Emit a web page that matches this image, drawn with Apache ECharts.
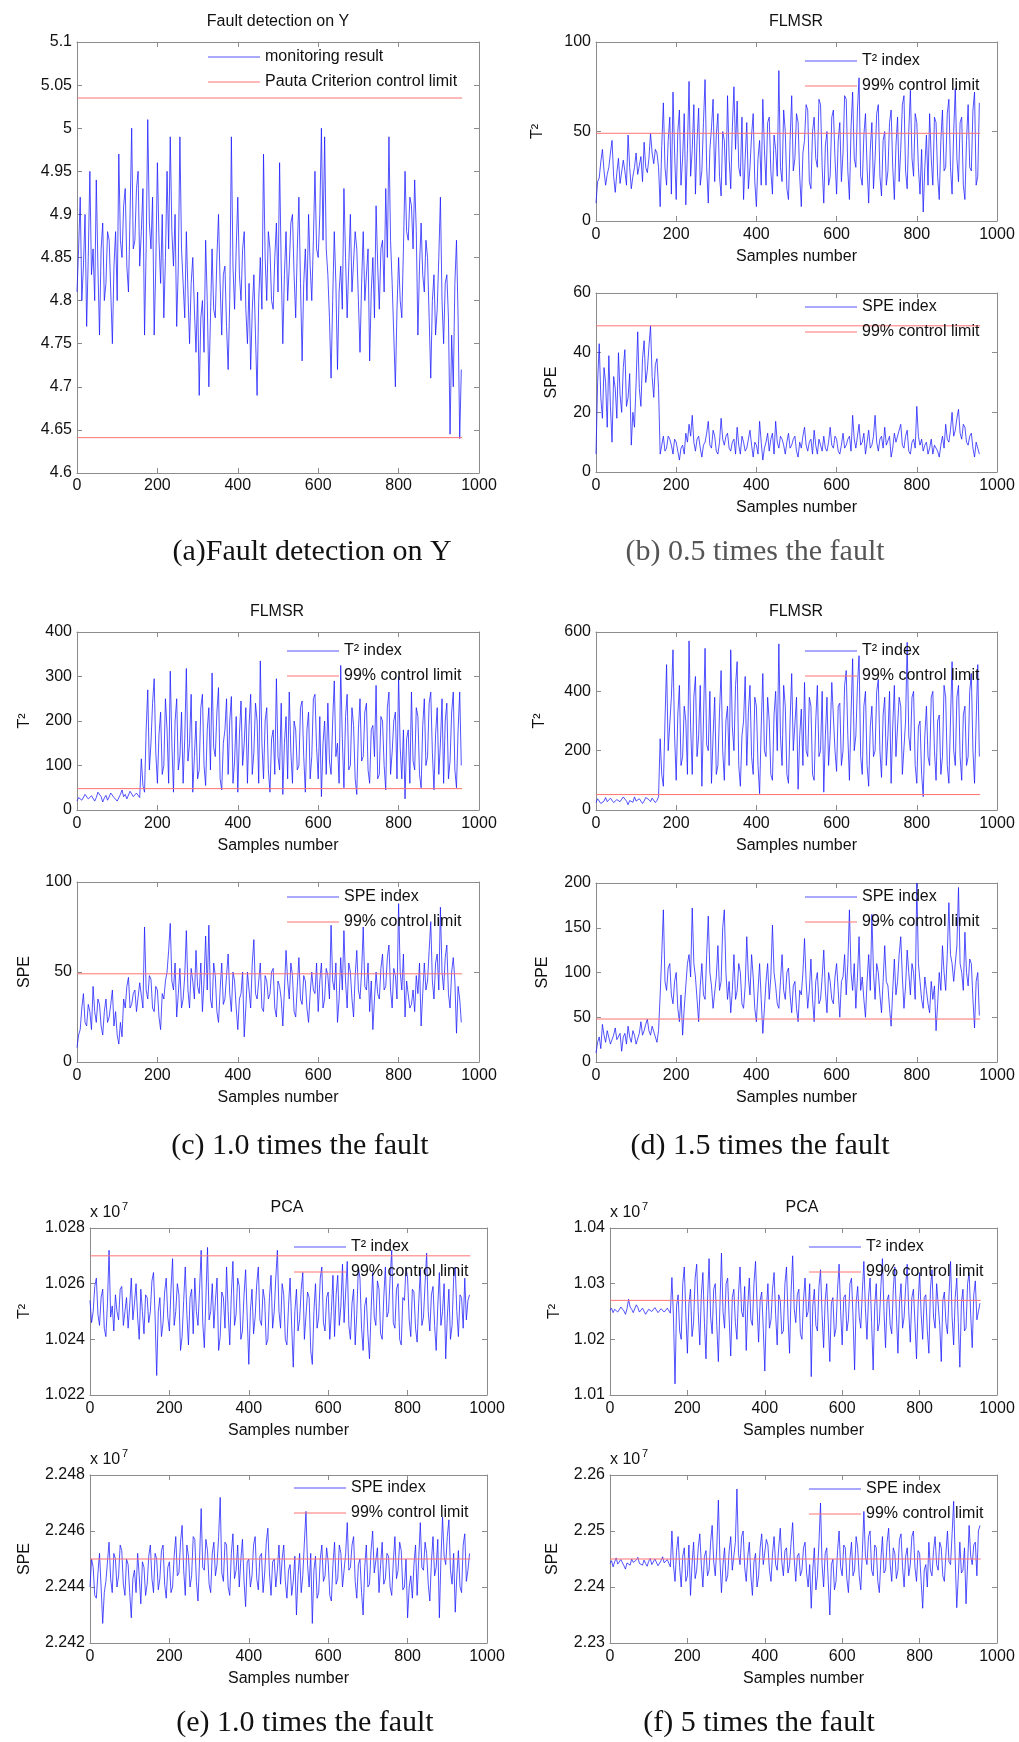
<!DOCTYPE html>
<html>
<head>
<meta charset="utf-8">
<title>Fault detection</title>
<script src="https://cdn.jsdelivr.net/npm/echarts@6/dist/echarts.min.js"></script>
<style>
  html, body { margin: 0; padding: 0; background: #fff; }
  #chart { width: 1019px; height: 1742px; }
</style>
</head>
<body>
<div id="chart"></div>
<script>
// one reading every 4 samples (x = i * sampleStep)
var sampleStep = 4;
var limitSpan = [0, 958];
var xTicks = [0, 1000, 200];

// (a) monitoring result on Y
var yResult = [
  4.81,4.86,4.92,4.80,4.84,4.90,4.77,4.85,4.95,4.83,4.86,4.80,4.94,4.84,4.76,4.86,4.89,4.80,4.82,4.88,
  4.87,4.81,4.75,4.84,4.88,4.80,4.97,4.87,4.85,4.91,4.93,4.84,4.81,4.90,5.00,4.86,4.87,4.93,4.95,4.84,
  4.88,4.93,4.76,4.86,5.01,4.89,4.86,4.92,4.76,4.84,4.96,4.87,4.82,4.90,4.78,4.85,4.95,4.86,4.99,4.88,
  4.84,4.90,4.77,4.84,4.99,4.86,4.82,4.78,4.88,4.81,4.75,4.82,4.85,4.79,4.74,4.81,4.69,4.78,4.80,4.74,
  4.87,4.80,4.70,4.78,4.86,4.79,4.78,4.85,4.90,4.82,4.76,4.83,4.84,4.77,4.72,4.80,4.99,4.84,4.79,4.86,
  4.92,4.83,4.80,4.86,4.88,4.79,4.75,4.82,4.72,4.79,4.83,4.76,4.69,4.80,4.85,4.79,4.97,4.85,4.80,4.88,
  4.86,4.80,4.79,4.85,4.89,4.81,4.96,4.84,4.75,4.83,4.88,4.80,4.84,4.89,4.90,4.83,4.78,4.86,4.92,4.82,
  4.73,4.82,4.86,4.80,4.90,4.84,4.80,4.87,4.95,4.86,4.85,4.90,5.00,4.87,4.99,4.86,4.83,4.78,4.71,4.80,
  4.88,4.82,4.72,4.81,4.84,4.79,4.93,4.85,4.78,4.84,4.90,4.81,4.81,4.88,4.86,4.80,4.74,4.82,4.88,4.80,
  4.80,4.86,4.73,4.81,4.85,4.78,4.91,4.84,4.79,4.86,4.87,4.81,4.93,4.85,4.99,4.87,4.82,4.76,4.70,4.79,
  4.85,4.80,4.78,4.86,4.95,4.88,4.87,4.92,4.91,4.86,4.94,4.88,4.76,4.84,4.89,4.83,4.81,4.87,4.85,4.78,
  4.71,4.80,4.83,4.76,4.79,4.85,4.92,4.80,4.75,4.82,4.83,4.78,4.645,4.76,4.70,4.82,4.87,4.78,4.64,4.72];
var yResultLimits = [5.035, 4.641];

// (b) FLMSR, 0.5 times the fault
var t2Half = [
  10,22,24,33,40,28,20,26,30,38,45,25,16,27,35,21,22,34,28,20,
  48,30,18,25,30,38,26,31,36,22,44,30,27,35,49,38,32,40,38,30,
  8,42,66,30,20,45,58,15,72,38,12,50,62,20,35,60,9,40,78,25,
  40,65,15,45,63,20,28,55,79,30,10,40,52,68,22,48,60,25,14,50,
  45,20,70,35,18,52,75,40,67,30,25,58,12,35,55,18,30,48,60,22,
  8,35,45,20,68,40,20,55,58,28,15,48,40,25,84,30,22,62,50,18,
  12,45,70,28,35,60,55,25,8,38,45,65,62,22,18,50,58,35,30,68,
  65,30,10,42,50,20,25,58,62,35,15,45,55,22,38,70,68,28,12,52,
  72,35,30,62,80,25,20,48,60,30,10,40,55,18,35,60,65,25,14,45,
  50,20,28,55,62,30,12,42,58,22,40,65,70,28,18,50,73,35,25,60,
  55,30,15,40,5,30,48,20,60,35,20,58,55,25,12,45,62,28,30,60,
  68,30,15,50,74,35,22,55,58,20,12,45,65,30,28,62,72,20,25,66];
var speHalf = [
  6,30,43,25,18,35,30,15,39,22,10,32,28,18,40,26,20,35,41,22,
  25,33,9,20,15,30,47,28,22,38,44,30,34,42,49,32,25,36,38,28,
  6,9,12,7,8,12,11,9,6,11,10,7,4,8,9,6,13,10,16,12,
  19,10,7,11,12,8,5,9,10,13,17,9,8,14,12,7,6,10,18,11,
  9,12,13,8,7,10,11,6,15,9,6,12,10,7,8,11,14,9,5,10,
  9,6,17,10,4,8,10,13,7,11,13,6,17,10,8,12,11,9,6,10,
  13,8,9,11,12,7,5,10,8,12,15,9,7,10,11,6,14,9,6,11,
  9,7,12,8,7,10,15,9,8,12,11,7,6,9,13,8,9,11,12,7,
  19,11,8,12,16,9,10,13,6,10,14,8,9,12,19,10,7,11,12,8,
  15,9,9,12,5,8,13,10,10,14,16,9,8,12,14,7,6,10,11,8,
  22,12,9,11,7,9,10,6,8,11,6,9,9,7,5,9,12,8,16,11,
  10,14,20,12,14,18,21,13,11,16,15,10,9,12,13,8,5,10,8,6];
var limitsHalf = [49, 49];

// (c) FLMSR, 1.0 times the fault
var t2One = [
  20,28,30,22,25,35,38,25,22,32,35,20,28,40,42,30,18,27,33,22,
  25,38,40,28,30,20,22,35,45,30,35,25,28,42,40,30,30,38,35,28,
  115,55,40,180,270,90,150,240,295,130,60,170,220,80,100,250,180,60,312,150,
  40,200,250,90,120,220,60,160,318,110,150,260,40,120,200,70,90,230,260,100,
  55,180,230,90,308,140,120,220,275,70,45,150,180,250,80,200,255,60,110,210,
  40,170,245,100,150,230,60,190,260,80,130,240,200,60,335,150,70,200,230,90,
  40,160,180,80,295,120,90,240,35,150,210,70,265,130,60,200,180,90,100,230,
  245,120,40,180,220,70,120,250,260,140,70,210,30,150,200,80,240,110,80,200,
  290,120,150,60,325,160,50,210,260,90,100,230,190,70,35,180,250,110,120,220,
  240,90,60,180,190,120,280,70,80,210,200,100,45,230,265,80,130,200,220,70,
  300,140,70,180,25,160,180,60,265,110,90,230,210,80,50,190,250,100,120,240,
  265,130,45,170,230,80,150,250,60,200,240,70,110,220,265,90,50,180,265,100];
var speOne = [
  8,15,18,30,38,22,20,32,28,18,42,28,22,35,32,20,15,28,35,22,
  25,32,40,20,28,15,10,22,14,35,30,42,47,30,32,38,40,28,36,44,
  45,30,75,40,35,48,46,30,28,42,40,25,18,38,35,45,50,62,77,45,
  40,55,25,38,52,30,35,48,73,40,30,52,45,35,62,42,38,55,28,45,
  70,40,76,35,30,55,48,28,22,40,55,32,35,48,60,38,28,50,45,30,
  18,35,38,50,14,30,50,40,30,55,68,38,35,45,55,30,28,48,45,35,
  38,50,52,30,25,45,42,35,20,40,62,45,35,55,48,28,25,42,58,35,
  32,48,45,30,22,38,50,40,38,55,28,45,55,30,35,52,48,35,76,45,
  40,55,22,35,58,40,73,45,30,55,50,35,25,48,62,40,35,50,75,42,
  40,55,28,45,18,35,50,38,35,52,60,40,42,58,65,40,30,52,48,35,
  88,50,40,60,25,45,45,30,32,40,28,48,38,55,20,38,55,40,45,62,
  78,45,35,55,60,40,86,50,40,58,65,38,30,50,58,45,16,42,35,22];
var limitsOne = [48, 49];

// (d) FLMSR, 1.5 times the fault
var t2OneHalf = [
  25,38,35,22,20,30,42,28,30,40,45,25,22,35,38,28,28,44,40,30,
  18,32,35,26,44,30,25,38,40,22,30,42,46,35,28,40,38,25,32,45,
  240,120,80,300,490,200,200,380,540,250,100,320,420,150,180,350,300,120,570,280,
  120,380,450,180,250,420,80,300,545,220,200,400,90,250,380,120,150,330,470,200,
  100,300,350,150,540,280,200,420,500,150,80,250,300,450,150,330,420,180,120,380,
  350,150,55,280,460,200,180,380,300,120,100,320,400,200,560,250,150,420,350,120,
  90,300,460,200,200,380,70,250,340,150,430,200,180,380,350,120,100,300,420,180,
  200,400,60,250,380,150,250,430,430,200,130,350,360,150,200,420,470,250,100,320,
  510,200,250,420,520,180,120,350,400,150,80,280,350,180,200,400,440,200,110,320,
  380,150,250,400,90,280,420,180,180,380,350,120,120,300,565,250,200,380,400,150,
  90,280,300,120,45,250,350,180,150,380,400,200,100,300,320,120,180,420,380,150,
  90,300,500,200,150,380,420,180,100,320,350,150,180,400,460,200,90,300,490,180];
var speOneHalf = [
  10,22,28,15,42,30,22,35,35,20,18,30,38,25,25,32,12,28,32,20,
  40,28,22,35,30,20,18,32,45,30,35,42,48,35,30,40,40,28,22,35,
  75,120,170,90,80,105,110,75,65,90,100,60,45,75,30,60,85,110,120,95,
  172,110,95,70,45,85,110,75,70,120,163,100,85,60,60,95,130,80,90,150,
  170,100,70,90,55,80,120,70,80,110,100,65,60,85,140,95,75,120,95,60,
  45,80,110,70,32,60,90,110,70,95,153,100,85,65,60,90,120,80,70,100,
  105,75,55,85,90,60,45,80,75,100,138,90,60,80,115,70,45,90,100,65,
  70,95,125,80,55,100,90,70,65,95,110,80,50,90,95,120,75,110,170,100,
  80,110,60,95,140,80,95,70,50,90,120,80,165,100,70,110,100,75,55,90,
  130,90,85,60,40,80,115,75,90,120,140,95,60,85,125,100,75,110,100,70,
  200,110,90,70,60,95,80,65,55,90,70,85,35,65,100,80,130,100,80,120,
  178,120,110,90,90,130,195,110,100,80,145,100,85,115,110,70,38,90,100,52];
var limitsOneHalf = [52, 48];

// (e) PCA, 1.0 times the fault (x 10^7)
var pcaT2One = [
  1.0254,1.0246,1.0250,1.0259,1.0262,1.0249,1.0245,1.0255,1.0258,1.0244,1.0241,1.0253,1.0272,1.0248,1.0252,1.0243,1.0256,1.0250,1.0247,1.0258,
  1.0259,1.0245,1.0250,1.0255,1.0244,1.0252,1.0262,1.0247,1.0253,1.0260,1.0248,1.0240,1.0258,1.0250,1.0242,1.0256,1.0255,1.0246,1.0250,1.0261,
  1.0264,1.0248,1.0227,1.0250,1.0255,1.0241,1.0246,1.0257,1.0262,1.0248,1.0243,1.0258,1.0269,1.0245,1.0250,1.0260,1.0256,1.0236,1.0241,1.0254,
  1.0266,1.0249,1.0238,1.0255,1.0258,1.0242,1.0262,1.0250,1.0245,1.0258,1.0272,1.0246,1.0237,1.0255,1.0273,1.0247,1.0250,1.0260,1.0244,1.0254,
  1.0262,1.0236,1.0241,1.0257,1.0255,1.0244,1.0266,1.0250,1.0238,1.0256,1.0268,1.0245,1.0249,1.0262,1.0259,1.0240,1.0243,1.0256,1.0265,1.0248,
  1.0231,1.0250,1.0258,1.0242,1.0248,1.0260,1.0266,1.0247,1.0245,1.0258,1.0254,1.0238,1.0240,1.0255,1.0263,1.0244,1.0250,1.0262,1.0272,1.0250,
  1.0244,1.0260,1.0256,1.0240,1.0238,1.0252,1.0262,1.0245,1.0230,1.0250,1.0258,1.0243,1.0247,1.0258,1.0264,1.0240,1.0240,1.0257,1.0255,1.0236,
  1.0231,1.0250,1.0260,1.0244,1.0248,1.0262,1.0266,1.0246,1.0243,1.0255,1.0257,1.0240,1.0250,1.0263,1.0241,1.0256,1.0263,1.0245,1.0252,1.0267,
  1.0246,1.0257,1.0268,1.0245,1.0240,1.0253,1.0258,1.0238,1.0249,1.0266,1.0262,1.0244,1.0236,1.0252,1.0255,1.0242,1.0233,1.0250,1.0264,1.0248,
  1.0245,1.0261,1.0258,1.0242,1.0240,1.0255,1.0266,1.0248,1.0250,1.0262,1.0272,1.0246,1.0244,1.0258,1.0260,1.0240,1.0238,1.0255,1.0254,1.0266,
  1.0262,1.0247,1.0241,1.0258,1.0257,1.0244,1.0239,1.0253,1.0265,1.0245,1.0248,1.0260,1.0271,1.0250,1.0243,1.0256,1.0259,1.0245,1.0236,1.0252,
  1.0264,1.0245,1.0250,1.0260,1.0233,1.0248,1.0258,1.0240,1.0245,1.0262,1.0266,1.0250,1.0241,1.0256,1.0255,1.0244,1.0262,1.0247,1.0254,1.0256];
var pcaSpeOne = [
  2.2440,2.2450,2.2447,2.2437,2.2436,2.2445,2.2452,2.2440,2.2427,2.2438,2.2442,2.2449,2.2456,2.2443,2.2438,2.2452,2.2450,2.2440,2.2444,2.2455,
  2.2453,2.2441,2.2437,2.2450,2.2448,2.2438,2.2429,2.2443,2.2446,2.2438,2.2452,2.2444,2.2434,2.2449,2.2447,2.2437,2.2441,2.2451,2.2455,2.2443,
  2.2438,2.2452,2.2450,2.2439,2.2443,2.2453,2.2455,2.2441,2.2436,2.2447,2.2449,2.2438,2.2440,2.2451,2.2458,2.2444,2.2445,2.2456,2.2462,2.2446,
  2.2437,2.2455,2.2451,2.2440,2.2444,2.2458,2.2457,2.2442,2.2435,2.2450,2.2468,2.2447,2.2446,2.2457,2.2453,2.2441,2.2438,2.2452,2.2456,2.2444,
  2.2448,2.2458,2.2472,2.2445,2.2442,2.2456,2.2455,2.2440,2.2437,2.2452,2.2459,2.2443,2.2446,2.2455,2.2440,2.2450,2.2457,2.2442,2.2433,2.2449,
  2.2450,2.2440,2.2444,2.2455,2.2458,2.2443,2.2439,2.2451,2.2452,2.2438,2.2445,2.2456,2.2461,2.2445,2.2437,2.2449,2.2450,2.2440,2.2446,2.2455,
  2.2441,2.2450,2.2455,2.2442,2.2436,2.2446,2.2448,2.2437,2.2442,2.2451,2.2430,2.2444,2.2452,2.2438,2.2444,2.2456,2.2467,2.2448,2.2440,2.2452,
  2.2427,2.2446,2.2451,2.2436,2.2438,2.2450,2.2455,2.2442,2.2444,2.2454,2.2449,2.2437,2.2435,2.2448,2.2456,2.2441,2.2443,2.2455,2.2452,2.2440,
  2.2440,2.2452,2.2463,2.2446,2.2447,2.2455,2.2458,2.2442,2.2436,2.2448,2.2450,2.2438,2.2430,2.2447,2.2455,2.2440,2.2441,2.2453,2.2460,2.2445,
  2.2445,2.2454,2.2438,2.2448,2.2456,2.2441,2.2443,2.2452,2.2451,2.2440,2.2437,2.2449,2.2458,2.2443,2.2446,2.2456,2.2453,2.2439,2.2440,2.2450,
  2.2429,2.2440,2.2444,2.2436,2.2448,2.2455,2.2437,2.2450,2.2463,2.2447,2.2446,2.2456,2.2452,2.2441,2.2435,2.2449,2.2458,2.2444,2.2447,2.2457,
  2.2429,2.2450,2.2465,2.2451,2.2448,2.2458,2.2464,2.2446,2.2441,2.2452,2.2431,2.2444,2.2453,2.2440,2.2438,2.2455,2.2459,2.2442,2.2446,2.2452];
var pcaLimitsOne = [1.0270, 2.2450];

// (f) PCA, 5 times the fault (x 10^7)
var pcaT2Five = [
  1.0252,1.0256,1.0248,1.0254,1.0256,1.0249,1.0250,1.0258,1.0258,1.0251,1.0245,1.0255,1.0272,1.0258,1.0254,1.0248,1.0250,1.0262,1.0257,1.0249,
  1.0249,1.0256,1.0253,1.0245,1.0247,1.0254,1.0255,1.0250,1.0251,1.0257,1.0258,1.0248,1.0246,1.0255,1.0254,1.0249,1.0250,1.0256,1.0256,1.0247,
  1.0311,1.0240,1.0120,1.0260,1.0280,1.0215,1.0200,1.0300,1.0330,1.0245,1.0175,1.0265,1.0290,1.0205,1.0230,1.0310,1.0335,1.0250,1.0190,1.0280,
  1.0320,1.0230,1.0165,1.0270,1.0345,1.0240,1.0210,1.0290,1.0300,1.0225,1.0160,1.0260,1.0355,1.0250,1.0220,1.0300,1.0310,1.0235,1.0170,1.0275,
  1.0290,1.0230,1.0200,1.0280,1.0330,1.0250,1.0240,1.0295,1.0180,1.0260,1.0310,1.0235,1.0225,1.0300,1.0340,1.0260,1.0195,1.0270,1.0285,1.0220,
  1.0143,1.0250,1.0300,1.0220,1.0235,1.0290,1.0320,1.0245,1.0190,1.0280,1.0270,1.0210,1.0215,1.0300,1.0330,1.0240,1.0175,1.0285,1.0350,1.0255,
  1.0230,1.0280,1.0290,1.0210,1.0200,1.0270,1.0310,1.0240,1.0250,1.0300,1.0133,1.0260,1.0290,1.0225,1.0215,1.0295,1.0325,1.0245,1.0185,1.0270,
  1.0300,1.0230,1.0160,1.0265,1.0275,1.0205,1.0220,1.0290,1.0335,1.0250,1.0190,1.0275,1.0280,1.0215,1.0235,1.0300,1.0310,1.0240,1.0145,1.0265,
  1.0295,1.0240,1.0220,1.0285,1.0340,1.0255,1.0200,1.0275,1.0310,1.0230,1.0145,1.0260,1.0300,1.0215,1.0230,1.0295,1.0345,1.0250,1.0185,1.0270,
  1.0280,1.0225,1.0210,1.0290,1.0330,1.0245,1.0175,1.0265,1.0300,1.0220,1.0240,1.0295,1.0335,1.0250,1.0195,1.0275,1.0290,1.0230,1.0165,1.0260,
  1.0320,1.0245,1.0200,1.0275,1.0280,1.0215,1.0175,1.0290,1.0325,1.0240,1.0220,1.0300,1.0300,1.0225,1.0160,1.0270,1.0285,1.0230,1.0210,1.0280,
  1.0340,1.0240,1.0190,1.0275,1.0310,1.0230,1.0150,1.0265,1.0290,1.0215,1.0220,1.0300,1.0320,1.0245,1.0185,1.0280,1.0305,1.0235,1.0250,1.0265];
var pcaSpeFive = [
  2.2442,2.2447,2.2436,2.2445,2.2452,2.2441,2.2440,2.2449,2.2448,2.2438,2.2432,2.2443,2.2446,2.2439,2.2450,2.2444,2.2441,2.2448,2.2453,2.2442,
  2.2444,2.2439,2.2448,2.2442,2.2437,2.2446,2.2451,2.2440,2.2443,2.2450,2.2449,2.2438,2.2438,2.2447,2.2454,2.2443,2.2442,2.2449,2.2446,2.2436,
  2.2500,2.2440,2.2410,2.2465,2.2490,2.2435,2.2400,2.2455,2.2470,2.2410,2.2420,2.2475,2.2385,2.2440,2.2480,2.2415,2.2430,2.2470,2.2495,2.2440,
  2.2400,2.2455,2.2465,2.2420,2.2430,2.2480,2.2510,2.2445,2.2420,2.2470,2.2555,2.2450,2.2390,2.2440,2.2470,2.2410,2.2420,2.2465,2.2490,2.2430,
  2.2430,2.2480,2.2575,2.2460,2.2440,2.2490,2.2500,2.2435,2.2410,2.2455,2.2480,2.2420,2.2385,2.2445,2.2460,2.2400,2.2420,2.2470,2.2495,2.2440,
  2.2440,2.2485,2.2475,2.2430,2.2410,2.2460,2.2490,2.2440,2.2430,2.2470,2.2505,2.2445,2.2420,2.2465,2.2470,2.2425,2.2440,2.2480,2.2515,2.2450,
  2.2410,2.2455,2.2460,2.2420,2.2430,2.2470,2.2480,2.2425,2.2400,2.2440,2.2362,2.2430,2.2470,2.2395,2.2420,2.2480,2.2550,2.2440,2.2400,2.2460,
  2.2470,2.2410,2.2350,2.2440,2.2450,2.2395,2.2410,2.2465,2.2500,2.2435,2.2420,2.2475,2.2470,2.2415,2.2390,2.2450,2.2480,2.2420,2.2430,2.2490,
  2.2470,2.2420,2.2395,2.2460,2.2535,2.2455,2.2440,2.2490,2.2500,2.2430,2.2420,2.2475,2.2470,2.2410,2.2390,2.2450,2.2490,2.2425,2.2430,2.2480,
  2.2505,2.2440,2.2410,2.2470,2.2460,2.2415,2.2430,2.2485,2.2495,2.2435,2.2400,2.2455,2.2470,2.2420,2.2440,2.2490,2.2500,2.2435,2.2410,2.2465,
  2.2460,2.2410,2.2362,2.2430,2.2440,2.2400,2.2480,2.2430,2.2420,2.2465,2.2490,2.2440,2.2430,2.2480,2.2470,2.2420,2.2410,2.2460,2.2500,2.2445,
  2.2440,2.2495,2.2553,2.2450,2.2363,2.2420,2.2480,2.2425,2.2430,2.2470,2.2370,2.2440,2.2510,2.2455,2.2440,2.2475,2.2480,2.2420,2.2500,2.2510];
var pcaLimitsFive = [1.0270, 2.2450];

var T2_NAME = 'T\u00b2 index', SPE_NAME = 'SPE index', LIM_NAME = '99% control limit';

// layout of every small plot: grid box [left, top, width, height]
var panels = [
  { box: [77, 42, 402, 431], y: [4.6, 5.1, 0.05], data: yResult, limit: yResultLimits,
    names: ['monitoring result', 'Pauta Criterion control limit'], legend: [208, 49],
    title: 'Fault detection on Y', titleAt: [278, 22], yName: '', labelMargin: 5 },
  { box: [596, 42, 401, 179], y: [0, 100, 50], data: t2Half, limit: [limitsHalf[0]],
    names: [T2_NAME, LIM_NAME], legend: [805, 53], title: 'FLMSR', titleAt: [796, 22], yName: 'T\u00b2', yGap: 50 },
  { box: [596, 293, 401, 179], y: [0, 60, 20], data: speHalf, limit: [limitsHalf[1]],
    names: [SPE_NAME, LIM_NAME], legend: [805, 299], yName: 'SPE', yGap: 36 },
  { box: [77, 632, 402, 178], y: [0, 400, 100], data: t2One, limit: [limitsOne[0]],
    names: [T2_NAME, LIM_NAME], legend: [287, 643], title: 'FLMSR', titleAt: [277, 612], yName: 'T\u00b2', yGap: 44 },
  { box: [77, 882, 402, 180], y: [0, 100, 50], data: speOne, limit: [limitsOne[1]],
    names: [SPE_NAME, LIM_NAME], legend: [287, 889], yName: 'SPE', yGap: 44 },
  { box: [596, 632, 401, 178], y: [0, 600, 200], data: t2OneHalf, limit: [limitsOneHalf[0]],
    names: [T2_NAME, LIM_NAME], legend: [805, 643], title: 'FLMSR', titleAt: [796, 612], yName: 'T\u00b2', yGap: 48 },
  { box: [596, 883, 401, 179], y: [0, 200, 50], data: speOneHalf, limit: [limitsOneHalf[1]],
    names: [SPE_NAME, LIM_NAME], legend: [805, 889], yName: 'SPE', yGap: 45 },
  { box: [90, 1228, 397, 167], y: [1.022, 1.028, 0.002], data: pcaT2One, limit: [pcaLimitsOne[0]],
    names: [T2_NAME, LIM_NAME], legend: [294, 1239], title: 'PCA', titleAt: [287, 1208], yName: 'T\u00b2', yGap: 57, exp: true },
  { box: [90, 1475, 397, 168], y: [2.242, 2.248, 0.002], data: pcaSpeOne, limit: [pcaLimitsOne[1]],
    names: [SPE_NAME, LIM_NAME], legend: [294, 1480], yName: 'SPE', yGap: 57, exp: true },
  { box: [610, 1228, 387, 167], y: [1.01, 1.04, 0.01], data: pcaT2Five, limit: [pcaLimitsFive[0]],
    names: [T2_NAME, LIM_NAME], legend: [809, 1239], title: 'PCA', titleAt: [802, 1208], yName: 'T\u00b2', yGap: 47, exp: true },
  { box: [610, 1475, 387, 168], y: [2.23, 2.26, 0.01], data: pcaSpeFive, limit: [pcaLimitsFive[1]],
    names: [SPE_NAME, LIM_NAME], legend: [809, 1481], yName: 'SPE', yGap: 49, exp: true }
];

var captions = [
  { text: '(a)Fault detection on Y', at: [312, 552], color: '#111' },
  { text: '(b) 0.5 times the fault', at: [755, 552], color: '#555' },
  { text: '(c) 1.0 times the fault', at: [300, 1146], color: '#111' },
  { text: '(d) 1.5 times the fault', at: [760, 1146], color: '#111' },
  { text: '(e) 1.0 times the fault', at: [305, 1723], color: '#111' },
  { text: '(f) 5 times the fault', at: [759, 1723], color: '#111' }
];

var FONT = 'Liberation Sans, Arial, sans-serif';
var AXIS_GREY = '#8c8c8c';
var BLUE = 'rgba(25,25,255,0.75)';
var RED = '#ff7373';

var grids = [], xAxes = [], yAxes = [], series = [], legends = [], titles = [];

function plain(v) { return String(v); }

panels.forEach(function (p, k) {
  grids.push({ left: p.box[0], top: p.box[1], width: p.box[2], height: p.box[3], containLabel: false });

  var tick = { show: true, inside: true, length: 5, lineStyle: { color: AXIS_GREY, width: 1 } };
  var line = { show: true, onZero: false, lineStyle: { color: AXIS_GREY, width: 1 } };

  xAxes.push({
    type: 'value', gridIndex: k, position: 'bottom', min: xTicks[0], max: xTicks[1], interval: xTicks[2],
    axisLine: line, axisTick: tick, splitLine: { show: false },
    axisLabel: { color: '#111', fontFamily: FONT, fontSize: 16, margin: p.labelMargin || 6, formatter: plain },
    name: p.yName ? 'Samples number' : '', nameLocation: 'middle', nameGap: 28,
    nameTextStyle: { color: '#111', fontFamily: FONT, fontSize: 16 }
  });
  xAxes.push({
    type: 'value', gridIndex: k, position: 'top', min: xTicks[0], max: xTicks[1], interval: xTicks[2],
    axisLine: line, axisTick: tick, axisLabel: { show: false }, splitLine: { show: false }
  });
  yAxes.push({
    type: 'value', gridIndex: k, position: 'left', min: p.y[0], max: p.y[1], interval: p.y[2],
    axisLine: line, axisTick: tick, splitLine: { show: false },
    axisLabel: { color: '#111', fontFamily: FONT, fontSize: 16, margin: 5 },
    name: p.yName, nameLocation: 'middle', nameGap: p.yGap || 0,
    nameTextStyle: { color: '#111', fontFamily: FONT, fontSize: 16 }
  });
  yAxes.push({
    type: 'value', gridIndex: k, position: 'right', min: p.y[0], max: p.y[1], interval: p.y[2],
    axisLine: line, axisTick: tick, axisLabel: { show: false }, splitLine: { show: false }
  });

  series.push({
    name: p.names[0], type: 'line', xAxisIndex: 2 * k, yAxisIndex: 2 * k,
    data: p.data.map(function (v, i) { return [i * sampleStep, v]; }),
    symbol: 'none', showSymbol: false, silent: true, animation: false,
    lineStyle: { color: BLUE, width: 1 }, itemStyle: { color: BLUE }
  });
  p.limit.forEach(function (lv) {
    series.push({
      name: p.names[1], type: 'line', xAxisIndex: 2 * k, yAxisIndex: 2 * k,
      data: limitSpan.map(function (x) { return [x, lv]; }),
      symbol: 'none', showSymbol: false, silent: true, animation: false,
      lineStyle: { color: RED, width: 1 }, itemStyle: { color: RED }
    });
  });

  legends.push({
    left: p.legend[0], top: p.legend[1], orient: 'vertical', padding: 0,
    icon: 'rect', itemWidth: 52, itemHeight: 1, itemGap: 9, selectedMode: false,
    data: p.names,
    textStyle: { color: '#111', fontFamily: FONT, fontSize: 16, lineHeight: 16 }
  });

  if (p.title) {
    titles.push({
      text: p.title, left: p.titleAt[0], top: p.titleAt[1], textAlign: 'center', textVerticalAlign: 'middle',
      padding: 0, textStyle: { color: '#111', fontFamily: FONT, fontSize: 16, fontWeight: 'normal' }
    });
  }
  if (p.exp) {
    titles.push({
      text: 'x 10', left: p.box[0], top: p.box[1] - 15, textVerticalAlign: 'middle', padding: 0,
      textStyle: { color: '#111', fontFamily: FONT, fontSize: 16, fontWeight: 'normal' }
    });
    titles.push({
      text: '7', left: p.box[0] + 32, top: p.box[1] - 21, textVerticalAlign: 'middle', padding: 0,
      textStyle: { color: '#111', fontFamily: FONT, fontSize: 11, fontWeight: 'normal' }
    });
  }
});

captions.forEach(function (c) {
  titles.push({
    text: c.text, left: c.at[0], top: c.at[1], textAlign: 'center', textVerticalAlign: 'middle', padding: 0,
    textStyle: { color: c.color, fontFamily: 'Liberation Serif, Times New Roman, serif', fontSize: 30, fontWeight: 'normal' }
  });
});

var chart = echarts.init(document.getElementById('chart'), null, { renderer: 'canvas' });
chart.setOption({
  animation: false,
  backgroundColor: '#ffffff',
  title: titles,
  legend: legends,
  grid: grids,
  xAxis: xAxes,
  yAxis: yAxes,
  series: series
});
</script>
</body>
</html>
